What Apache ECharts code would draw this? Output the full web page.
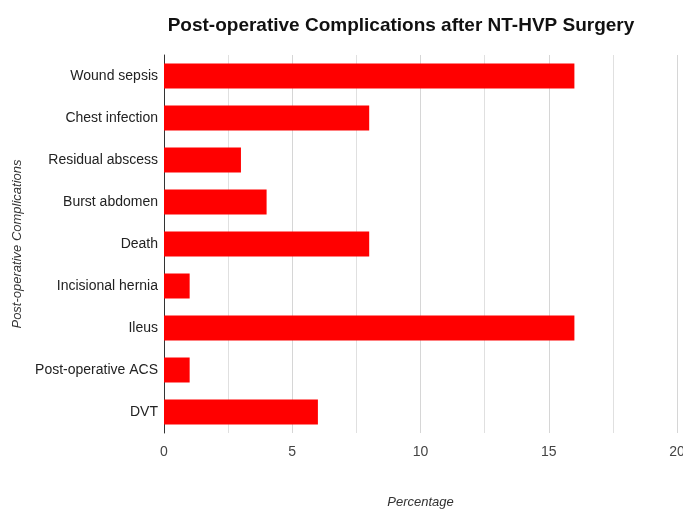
<!DOCTYPE html>
<html>
<head>
<meta charset="utf-8">
<script src="https://cdn.jsdelivr.net/npm/echarts@6/dist/echarts.min.js"></script>
<style>
  html, body { margin: 0; padding: 0; background: #fff; }
  #chart { width: 683px; height: 510px; }
</style>
</head>
<body>
<div id="chart"></div>
<script>
// categories listed bottom to top (category axis on y starts from the bottom)
var complications = ['DVT', 'Post-operative ACS', 'Ileus', 'Incisional hernia', 'Death',
    'Burst abdomen', 'Residual abscess', 'Chest infection', 'Wound sepsis'];
var percentages = [6, 1, 16, 1, 8, 4, 3, 8, 16];
var xTicks = [0, 5, 10, 15, 20];

function initChart() {
    var myChart = echarts.init(document.getElementById('chart'));
    var option = {
        backgroundColor: '#fff',
        animation: false,
        title: {
            text: 'Post-operative Complications after NT-HVP Surgery',
            left: 396,
            textAlign: 'center',
            top: 11,
            textStyle: { fontFamily: 'Liberation Sans', fontSize: 19, fontWeight: 'bold', color: '#111' }
        },
        grid: { left: 164, right: 6, top: 55, bottom: 77, containLabel: false, outerBoundsMode: 'none' },
        xAxis: {
            type: 'value',
            min: xTicks[0],
            max: xTicks[xTicks.length - 1],
            interval: 5,
            name: 'Percentage',
            nameLocation: 'middle',
            nameGap: 63,
            nameTextStyle: { fontFamily: 'Liberation Sans', fontStyle: 'italic', fontSize: 13, color: '#333' },
            axisLine: { show: false },
            axisTick: { show: false },
            axisLabel: { fontFamily: 'Liberation Sans', fontSize: 14, color: '#444', margin: 12 },
            splitLine: { show: true, lineStyle: { color: '#d6d6d6', width: 1 } },
            minorTick: { show: false, splitNumber: 2 },
            minorSplitLine: { show: true, lineStyle: { color: '#e0e0e0', width: 1 } }
        },
        yAxis: {
            type: 'category',
            data: complications,
            name: 'Post-operative Complications',
            nameLocation: 'middle',
            nameGap: 140,
            nameRotate: 90,
            nameTextStyle: { fontFamily: 'Liberation Sans', fontStyle: 'italic', fontSize: 13, color: '#333' },
            axisLine: { show: true, lineStyle: { color: '#333', width: 1 } },
            axisTick: { show: false },
            axisLabel: { fontFamily: 'Liberation Sans', fontSize: 14, color: '#222', margin: 6 }
        },
        series: [{
            type: 'bar',
            data: percentages,
            barWidth: 25,
            itemStyle: { color: '#ff0000' }
        }]
    };
    myChart.setOption(option);
}
initChart();
</script>
</body>
</html>
